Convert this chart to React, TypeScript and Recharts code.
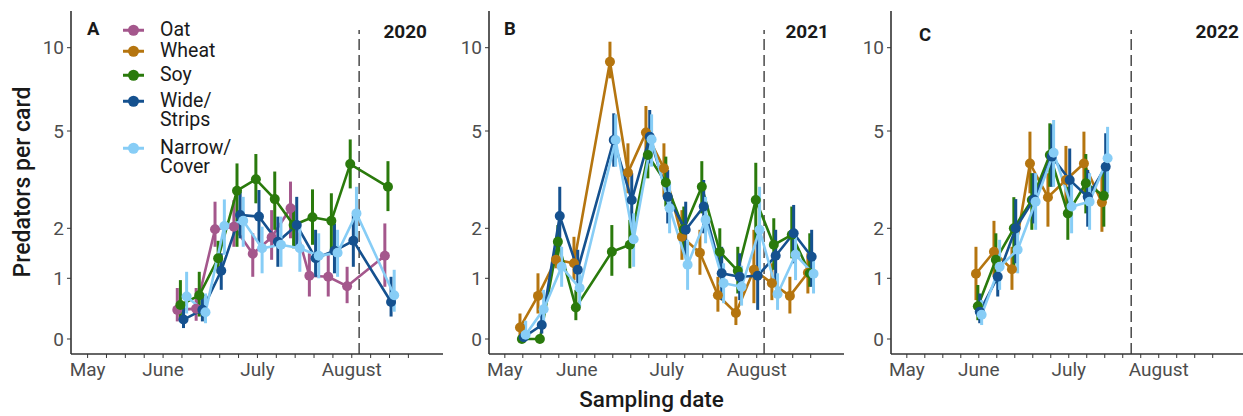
import { LineChart, Line, XAxis, YAxis, ErrorBar, ReferenceLine } from "recharts";

// sampling week of year per season
const weeks2020 = [23, 24, 25, 26, 27, 28, 29, 30, 31, 32, 34];
const weeks2021 = [19, 20, 21, 22, 24, 25, 26, 27, 28, 29, 30, 31, 32, 33, 34, 35];
const weeks2022 = [22, 23, 24, 25, 26, 27, 28, 29];

// [mean, lower, upper] predators per card
const oat2020 = [[0.48, 0.29, 0.84], [0.5, 0.3, 0.84], [1.98, 1.63, 2.82], [2.05, 1.63, 2.87], [1.49, 1.03, 1.9], [1.82, 1.37, 2.56], [2.62, 1.8, 3.44], [1.05, 0.7, 1.5], [1.03, 0.7, 1.5], [0.87, 0.59, 1.23], [1.45, 0.86, 2.15]];
const soy2020 = [[0.56, 0.31, 0.97], [0.72, 0.37, 1.13], [1.4, 1.1, 1.75], [3.16, 1.63, 4.0], [3.51, 2.77, 4.29], [2.9, 1.97, 3.75], [2.1, 1.6, 2.7], [2.34, 1.67, 3.2], [2.23, 1.5, 3.08], [3.98, 3.23, 4.74], [3.28, 2.53, 4.07]];
const wide2020 = [[0.32, 0.18, 0.56], [0.48, 0.29, 0.75], [1.15, 0.81, 1.5], [2.41, 1.8, 3.13], [2.36, 1.7, 3.18], [1.73, 1.23, 2.36], [2.1, 1.6, 2.97], [1.4, 1.03, 1.97], [1.55, 1.1, 2.15], [1.75, 1.23, 2.41], [0.61, 0.37, 1.03]];
const narrow2020 = [[0.7, 0.42, 1.13], [0.44, 0.26, 0.75], [2.07, 1.47, 2.89], [2.23, 1.63, 2.97], [1.6, 1.1, 2.05], [1.67, 1.23, 2.36], [1.6, 1.13, 2.05], [1.45, 1.0, 1.9], [1.51, 1.03, 1.97], [2.46, 1.77, 3.28], [0.72, 0.45, 1.17]];

const wheat2021 = [[0.19, 0.04, 0.42], [0.71, 0.42, 1.1], [1.37, 1.2, 1.55], [1.3, 0.97, 1.83], [9.16, 8.16, 10.36], [3.72, 3.08, 4.62], [4.95, 4.2, 6.5], [3.85, 2.98, 4.62], [1.83, 1.37, 2.56], [1.51, 1.07, 1.97], [0.72, 0.45, 1.03], [0.43, 0.23, 0.7], [1.17, 0.59, 1.97], [0.92, 0.64, 1.3], [0.71, 0.42, 1.03], [1.11, 0.75, 1.5]];
const soy2021 = [[0, 0, 0], [0, 0, 0], [1.73, 1.3, 2.1], [0.52, 0.31, 0.81], [1.53, 1.05, 2.1], [1.67, 1.2, 2.26], [4.26, 3.54, 5.06], [3.41, 2.67, 4.21], [1.98, 1.5, 2.67], [3.28, 2.46, 4.07], [1.53, 1.05, 2.0], [1.15, 0.75, 1.63], [2.87, 1.77, 4.02], [1.67, 1.17, 2.31], [1.87, 1.4, 2.67], [1.1, 0.86, 1.9]];
const wide2021 = [[0.03, 0, 0.25], [0.23, 0.09, 0.48], [2.38, 1.63, 3.28], [1.17, 0.81, 1.57], [4.72, 3.9, 6.06], [2.87, 1.97, 3.7], [4.82, 4.0, 6.26], [2.97, 2.15, 3.8], [1.97, 1.43, 2.82], [2.67, 1.9, 3.49], [1.1, 0.64, 1.63], [1.03, 0.64, 1.5], [1.05, 0.48, 1.9], [1.45, 0.86, 1.97], [1.9, 1.3, 2.72], [1.43, 0.86, 1.97]];
const narrow2021 = [[0.07, 0, 0.3], [0.49, 0.26, 0.81], [1.23, 0.86, 1.63], [0.84, 0.53, 1.17], [4.72, 3.9, 6.0], [1.78, 1.23, 2.46], [4.74, 3.9, 6.0], [2.62, 1.9, 3.39], [1.27, 0.81, 1.77], [2.26, 1.7, 2.97], [0.92, 0.59, 1.3], [0.86, 0.55, 1.25], [1.97, 1.03, 3.28], [0.74, 0.48, 1.1], [1.47, 0.97, 1.97], [1.09, 0.75, 1.5]];

const wheat2022 = [[1.09, 0.64, 1.63], [1.53, 1.03, 2.23], [1.18, 0.81, 1.63], [4.0, 3.08, 4.98], [2.96, 2.05, 3.7], [3.49, 2.67, 4.54], [4.0, 3.08, 4.98], [2.8, 1.93, 3.7]];
const soy2022 = [[0.54, 0.31, 0.89], [1.37, 0.92, 1.9], [2.0, 1.23, 2.96], [2.87, 1.97, 3.7], [4.26, 3.28, 5.46], [2.46, 1.77, 3.28], [3.39, 2.46, 4.29], [3.0, 2.05, 3.8]];
const wide2022 = [[0.45, 0.26, 0.75], [1.03, 0.7, 1.5], [2.0, 1.3, 2.9], [2.89, 2.15, 3.7], [4.21, 3.28, 5.4], [3.49, 2.46, 4.46], [2.97, 2.05, 3.8], [3.9, 2.87, 4.93]];
const narrow2022 = [[0.4, 0.23, 0.64], [1.23, 0.81, 1.77], [1.57, 1.1, 2.05], [2.82, 1.97, 3.7], [4.33, 3.28, 5.66], [2.67, 1.9, 3.49], [2.82, 1.97, 3.7], [4.16, 3.08, 5.25]];

const weekTicks = [18, 19, 20, 21, 22, 23, 24, 25, 26, 27, 28, 29, 30, 31, 32, 33, 34, 35];
const monthWeeks = [18, 22, 27, 32];
const monthLabels = ["May", "June", "July", "August"];
const yTickValues = [0, 1, 2, 5, 10];

const legendNames = ["Oat", "Wheat", "Soy", "Wide/\nStrips", "Narrow/\nCover"];
const COLORS: Record<string, string> = {
  Oat: "#a4578c",
  Wheat: "#b5750f",
  Soy: "#2a7a0c",
  Wide: "#15518f",
  Narrow: "#87cdf6",
};

// the y axis is a compressed count scale; knots give its shape
const KNOT_V = [0, 1, 2, 5, 10];
const KNOT_T = [0, 60.7, 110.7, 208, 291.3];
function tf(v: number) {
  let i = 0;
  while (i < KNOT_V.length - 2 && v > KNOT_V[i + 1]) i++;
  const k = (KNOT_T[i + 1] - KNOT_T[i]) / (KNOT_V[i + 1] - KNOT_V[i]);
  return KNOT_T[i] + (v - KNOT_V[i]) * k;
}
const yTicks = yTickValues.map(tf);

const FONT = "Roboto, 'Noto Sans', sans-serif";
const AXIS = "#333333";
const TICKTXT = "#4d4d4d";

type S = { key: string; vals: number[][] };

function build(weeks: number[], vals: number[][], offset: number) {
  return weeks.map((w, i) => {
    const [m, lo, hi] = vals[i];
    const y = tf(m);
    return { x: w + offset, y, err: [y - tf(lo), tf(hi) - y] };
  });
}

function Panel({ left, width, weeks, series, step, dashX }: { left: number; width: number; weeks: number[]; series: S[]; step: number; dashX: number }) {
  const n = series.length;
  return (
    <div style={{ position: "absolute", left, top: 0 }}>
      <LineChart width={width} height={416} margin={{ top: 11, right: 0, bottom: 32, left: 0 }}>
        <XAxis
          type="number"
          dataKey="x"
          domain={[17.12, 36.85]}
          allowDataOverflow
          ticks={weekTicks}
          interval={0}
          tickFormatter={(w: number) => {
            const i = monthWeeks.indexOf(w);
            return i >= 0 ? monthLabels[i] : "";
          }}
          height={30}
          tickSize={4}
          tickMargin={5}
          stroke={AXIS}
          axisLine={{ stroke: AXIS, strokeWidth: 1.6 }}
          tickLine={{ stroke: AXIS, strokeWidth: 1 }}
          tick={{ fill: TICKTXT, fontSize: 19, fontFamily: FONT }}
        />
        <YAxis
          type="number"
          dataKey="y"
          domain={[-15, 328]}
          allowDataOverflow
          ticks={yTicks}
          interval={0}
          tickFormatter={(t: number) => String(yTickValues[yTicks.indexOf(t)])}
          width={71}
          tickSize={4}
          tickMargin={3}
          axisLine={{ stroke: AXIS, strokeWidth: 1.6 }}
          tickLine={{ stroke: AXIS, strokeWidth: 1 }}
          tick={{ fill: TICKTXT, fontSize: 19, fontFamily: FONT }}
        />
        <ReferenceLine
          segment={[{ x: dashX, y: -15 }, { x: dashX, y: 309 }]}
          stroke="#4a4a4a"
          strokeWidth={1.5}
          strokeDasharray="11 5"
        />
        {series.map((s, i) => (
          <Line
            key={s.key}
            data={build(weeks, s.vals, (i - (n - 1) / 2) * step)}
            dataKey="y"
            type="linear"
            stroke={COLORS[s.key]}
            strokeWidth={2.6}
            dot={{ r: 5, fill: COLORS[s.key], stroke: COLORS[s.key], strokeWidth: 0 }}
            isAnimationActive={false}
          >
            <ErrorBar dataKey="err" direction="y" width={0} stroke={COLORS[s.key]} strokeWidth={3} />
          </Line>
        ))}
      </LineChart>
    </div>
  );
}

function Legend() {
  const tops = [30.7, 51.7, 75, 101.7, 148.3];
  return (
    <>
      {legendNames.map((name, i) => {
        const c = COLORS[name.split("/")[0]];
        return (
          <div key={name} style={{ position: "absolute", left: 122, top: tops[i] - 9.25, display: "flex", alignItems: "flex-start" }}>
            <svg width={24} height={18.5} style={{ display: "block" }}>
              <line x1={1} x2={22} y1={9.25} y2={9.25} stroke={c} strokeWidth={3} />
              <circle cx={11.5} cy={9.25} r={5.5} fill={c} />
            </svg>
            <div style={{ marginLeft: 14, fontSize: 19.5, lineHeight: "18.5px", color: "#1a1a1a", whiteSpace: "pre" }}>{name}</div>
          </div>
        );
      })}
    </>
  );
}

const txt = (extra: React.CSSProperties): React.CSSProperties => ({ position: "absolute", fontFamily: FONT, color: "#1a1a1a", ...extra });

export default function App() {
  return (
    <div style={{ position: "absolute", left: 0, top: 0, width: 1243, height: 416, overflow: "hidden", background: "#fff", fontFamily: FONT }}>
      <Panel left={0} width={443.3} weeks={weeks2020} step={0.165} dashX={32.39}
        series={[{ key: "Oat", vals: oat2020 }, { key: "Soy", vals: soy2020 }, { key: "Wide", vals: wide2020 }, { key: "Narrow", vals: narrow2020 }]} />
      <Panel left={418.3} width={426} weeks={weeks2021} step={0.105} dashX={32.41}
        series={[{ key: "Wheat", vals: wheat2021 }, { key: "Soy", vals: soy2021 }, { key: "Wide", vals: wide2021 }, { key: "Narrow", vals: narrow2021 }]} />
      <Panel left={819.7} width={426} weeks={weeks2022} step={0.105} dashX={30.47}
        series={[{ key: "Wheat", vals: wheat2022 }, { key: "Soy", vals: soy2022 }, { key: "Wide", vals: wide2022 }, { key: "Narrow", vals: narrow2022 }]} />

      <Legend />

      <div style={txt({ left: 87, top: 18, fontSize: 18.5, fontWeight: 700 })}>A</div>
      <div style={txt({ left: 504, top: 18, fontSize: 18.5, fontWeight: 700 })}>B</div>
      <div style={txt({ left: 919, top: 24, fontSize: 18.5, fontWeight: 700 })}>C</div>

      <div style={txt({ right: 1243 - 427, top: 20, fontSize: 19, fontWeight: 700 })}>2020</div>
      <div style={txt({ right: 1243 - 829, top: 20, fontSize: 19, fontWeight: 700 })}>2021</div>
      <div style={txt({ right: 1243 - 1239, top: 20, fontSize: 19, fontWeight: 700 })}>2022</div>

      <div style={txt({ left: 0, width: 1303, top: 386, textAlign: "center", fontSize: 22.5, fontWeight: 500 })}>Sampling date</div>
      <div style={txt({ left: 23 - 150, top: 182 - 15, width: 300, height: 30, lineHeight: "30px", textAlign: "center", fontSize: 23, fontWeight: 500, transform: "rotate(-90deg)" })}>
        Predators per card
      </div>
    </div>
  );
}
